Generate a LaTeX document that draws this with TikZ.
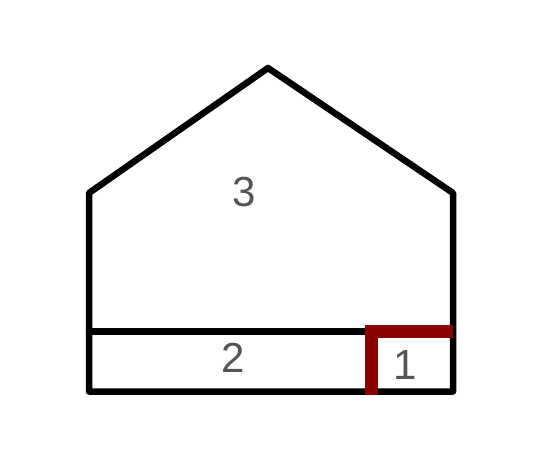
\documentclass[tikz,border=0pt]{standalone}
\usepackage{fontspec}
\setmainfont{Liberation Sans}
\begin{document}
\begin{tikzpicture}[x=1pt,y=-1pt,
  wall/.style={draw=black,line width=6.5pt,line join=round,line cap=round},
  redwall/.style={draw={rgb,255:red,139;green,0;blue,0},line width=13pt,line join=miter,line cap=butt},
  lbl/.style={text={rgb,255:red,85;green,85;blue,85},font=\fontsize{42}{42}\selectfont,inner sep=0pt}]
\useasboundingbox (0,0) rectangle (541,457);
\coordinate (bl) at (89,391.5);
\coordinate (br) at (453,391.5);
\coordinate (tl) at (89,193);
\coordinate (tr) at (453,193);
\coordinate (apex) at (268,68);
\coordinate (ml) at (89,331.5);
\coordinate (mr) at (371.5,331.5);
\coordinate (rb) at (371.5,395);
\coordinate (rr) at (453,331.5);
\draw[wall] (bl) -- (tl) -- (apex) -- (tr) -- (br) -- cycle;
\draw[wall] (ml) -- (mr);
\draw[redwall] (rb) -- (mr) -- (rr);
\node[lbl] (n3) at (244,192) {3};
\node[lbl] (n2) at (233,358) {2};
\node[lbl] (n1) at (405,365) {1};
\end{tikzpicture}
\end{document}
